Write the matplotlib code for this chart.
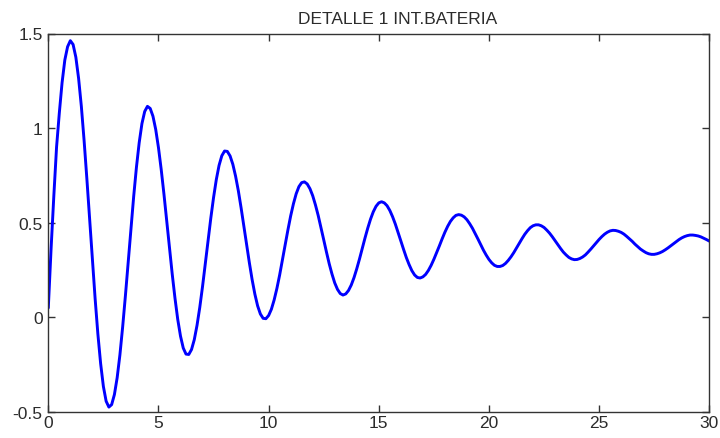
import numpy as np
import matplotlib
matplotlib.use("Agg")
import matplotlib.pyplot as plt

# Battery current detail, sampled every 0.125 s:
# values at the quarter-second marks (0, 0.25, ..., 30)
y_quarter = [
    0.05, 0.64, 1.08, 1.36, 1.462, 1.375, 1.115, 0.733, 0.305, -0.088,
    -0.365, -0.474, -0.408, -0.198, 0.115, 0.469, 0.793, 1.024, 1.115, 1.063,
    0.897, 0.650, 0.367, 0.101, -0.099, -0.194, -0.170, -0.042, 0.163, 0.405,
    0.633, 0.803, 0.879, 0.853, 0.746, 0.579, 0.385, 0.200, 0.061, -0.005,
    0.010, 0.092, 0.224, 0.383, 0.536, 0.653, 0.712, 0.705, 0.643, 0.538,
    0.410, 0.283, 0.182, 0.126, 0.124, 0.171, 0.257, 0.365, 0.472, 0.558,
    0.605, 0.605, 0.565, 0.493, 0.404, 0.316, 0.247, 0.211, 0.214, 0.248,
    0.307, 0.378, 0.450, 0.507, 0.539, 0.540, 0.516, 0.471, 0.414, 0.355,
    0.306, 0.275, 0.269, 0.285, 0.320, 0.367, 0.416, 0.458, 0.484, 0.489,
    0.475, 0.445, 0.405, 0.364, 0.330, 0.309, 0.306, 0.319, 0.345, 0.378,
    0.412, 0.440, 0.457, 0.459, 0.449, 0.428, 0.402, 0.374, 0.351, 0.336,
    0.333, 0.341, 0.357, 0.378, 0.400, 0.420, 0.432, 0.435, 0.430, 0.418,
    0.403,
]
# values halfway between them (0.125, 0.375, ..., 29.875)
y_between = [
    0.36, 0.90, 1.24, 1.43,
    1.442, 1.263, 0.934, 0.520, 0.099, -0.244, -0.443,
    -0.461, -0.319, -0.050, 0.291, 0.639, 0.923, 1.088,
    1.104, 0.993, 0.781, 0.509, 0.228, -0.011, -0.162,
    -0.196, -0.118, 0.053, 0.282, 0.524, 0.728, 0.854,
    0.877, 0.809, 0.669, 0.483, 0.289, 0.123, 0.018,
    -0.007, 0.043, 0.153, 0.302, 0.462, 0.600, 0.691,
    0.716, 0.680, 0.594, 0.475, 0.345, 0.229, 0.148,
    0.118, 0.142, 0.210, 0.309, 0.420, 0.519, 0.587,
    0.611, 0.590, 0.532, 0.449, 0.359, 0.279, 0.224,
    0.208, 0.227, 0.275, 0.342, 0.415, 0.481, 0.526,
    0.543, 0.531, 0.495, 0.443, 0.384, 0.329, 0.288, 0.269,
    0.274, 0.301, 0.342, 0.392, 0.439, 0.474, 0.489,
    0.484, 0.461, 0.426, 0.384, 0.345, 0.317, 0.305,
    0.311, 0.330, 0.361, 0.395, 0.427, 0.450, 0.460,
    0.455, 0.440, 0.415, 0.387, 0.361, 0.342, 0.333,
    0.336, 0.348, 0.367, 0.389, 0.411, 0.427, 0.435,
    0.433, 0.425, 0.411,
]
t_step = 0.125

x_ticks = [0, 5, 10, 15, 20, 25, 30]
y_ticks = [-0.5, 0, 0.5, 1, 1.5]
y_tick_labels = ["-0.5", "0", "0.5", "1", "1.5"]
title = "DETALLE 1 INT.BATERIA"

# interleave the two sample sets into one series
y_all = np.empty(len(y_quarter) + len(y_between))
y_all[0::2] = y_quarter
y_all[1::2] = y_between
t_all = t_step * np.arange(len(y_all))

plt.rcParams["font.family"] = ["Liberation Sans", "DejaVu Sans"]
edge = "#333333"
text_color = "#2b2b2b"

fig = plt.figure(figsize=(7.2, 4.39), dpi=100)
ax = fig.add_axes([48.3 / 720, 1 - 413 / 439, 661 / 720, 378.5 / 439])

ax.plot(t_all, y_all, color="#0000ff", linewidth=2.1,
        solid_joinstyle="round", solid_capstyle="round")

ax.set_xlim(0, 30)
ax.set_ylim(-0.5, 1.5)
ax.set_xticks(x_ticks)
ax.set_xticklabels([str(v) for v in x_ticks])
ax.set_yticks(y_ticks)
ax.set_yticklabels(y_tick_labels)

for s in ax.spines.values():
    s.set_color(edge)
    s.set_linewidth(1.0)
ax.tick_params(axis="both", which="both", direction="in", length=5,
               width=1.0, color=edge, labelcolor=text_color, labelsize=12.5,
               top=True, right=True)
ax.tick_params(axis="x", pad=2.5)
ax.tick_params(axis="y", pad=4)

fig.text(397.5 / 720, 1 - 23.5 / 439, title, ha="center", va="baseline",
         fontsize=12.5, color=text_color)

fig.savefig("out.png", dpi=100, facecolor="white")
